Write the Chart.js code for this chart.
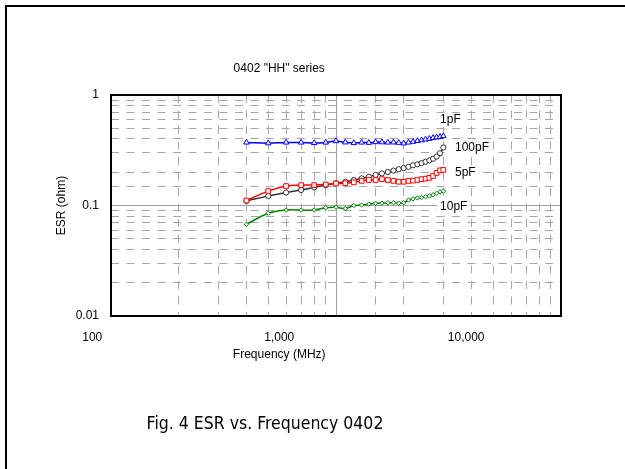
<!DOCTYPE html>
<html>
<head>
<meta charset="utf-8">
<script src="https://cdn.jsdelivr.net/npm/chart.js@4.4.1/dist/chart.umd.min.js"></script>
<style>
  html, body { margin: 0; padding: 0; background: #fff; overflow: hidden; }
  #wrap { width: 625px; height: 469px; overflow: hidden; }
  canvas { display: block; }
</style>
</head>
<body>
<div id="wrap">
  <canvas id="esrChart" width="660" height="469"></canvas>
</div>
<script>
// Data
const freqMHz = [400, 500, 600, 700, 800, 900, 1000, 1100, 1200, 1300, 1400, 1500, 1600, 1700,
  1800, 1900, 2000, 2100, 2200, 2300, 2400, 2500, 2600, 2700, 2800, 2900, 3000];
const esr1pF = [0.372, 0.366, 0.372, 0.372, 0.368, 0.372, 0.383, 0.373, 0.368, 0.372, 0.370, 0.375, 0.374, 0.372,
  0.373, 0.370, 0.365, 0.372, 0.378, 0.384, 0.390, 0.396, 0.402, 0.409, 0.414, 0.418, 0.425];
const esr5pF = [0.111, 0.135, 0.150, 0.153, 0.153, 0.155, 0.158, 0.159, 0.162, 0.167, 0.170, 0.170, 0.173, 0.170,
  0.167, 0.164, 0.164, 0.167, 0.168, 0.170, 0.173, 0.175, 0.178, 0.185, 0.197, 0.208, 0.210];
const esr10pF = [0.0676, 0.085, 0.091, 0.091, 0.091, 0.0955, 0.0965, 0.094, 0.100, 0.101, 0.103, 0.105, 0.105, 0.106,
  0.106, 0.105, 0.106, 0.112, 0.115, 0.117, 0.118, 0.120, 0.122, 0.125, 0.129, 0.133, 0.135];
const esr100pF = [0.110, 0.122, 0.131, 0.138, 0.146, 0.153, 0.159, 0.164, 0.170, 0.176, 0.182, 0.189, 0.195, 0.201,
  0.207, 0.213, 0.218, 0.224, 0.231, 0.236, 0.242, 0.249, 0.256, 0.265, 0.277, 0.297, 0.335];

const xTickValues = [100, 1000, 10000];
const xTickLabels = ['100', '1,000', '10,000'];
const yTickValues = [0.01, 0.1, 1];
const yTickLabels = ['0.01', '0.1', '1'];

// series label annotations (text, anchored at freq / esr)
const seriesNames = ['1pF', '100pF', '5pF', '10pF'];
const labelFreq = [2900, 3380, 3380, 2900];
const labelEsr = [0.594, 0.331, 0.197, 0.097];

const chartTitle = '0402 "HH" series';
const xTitle = 'Frequency (MHz)';
const yTitle = 'ESR (ohm)';
const caption = 'Fig. 4 ESR vs. Frequency 0402';

// the text layer of the original is squeezed horizontally
const TEXT_SQUEEZE = 0.831;
const FONT = '12px "Liberation Sans", Arial, sans-serif';

const isDecade = v => v != null && Math.abs(Math.log10(v) - Math.round(Math.log10(v))) < 1e-6;
const toPoints = ys => freqMHz.map((f, i) => ({ x: f, y: ys[i] }));

function series(label, ys, color, shape, radius) {
  return {
    label,
    data: toPoints(ys),
    borderColor: color,
    backgroundColor: '#fff',
    borderWidth: 1.5,
    pointStyle: shape,
    pointRadius: radius,
    pointBorderColor: color,
    pointBackgroundColor: '#fff',
    pointBorderWidth: 1,
    tension: 0.4
  };
}

const gridOpts = {
  color: ctx => isDecade(ctx.tick && ctx.tick.value) ? '#a0a0a0' : '#a6a6a6',
  lineWidth: 1,
  drawTicks: false
};
const borderOpts = {
  display: false,
  dash: ctx => (ctx.tick && !isDecade(ctx.tick.value)) ? [8, 7.5] : []
};

const textLayer = {
  id: 'textLayer',
  beforeDraw(chart) {
    // outer figure frame: only its left and top edges fall inside the picture
    const { ctx } = chart;
    ctx.save();
    ctx.fillStyle = '#000';
    ctx.fillRect(5, 5, 625, 2);
    ctx.fillRect(5, 5, 2, chart.height);
    ctx.restore();
  },
  beforeDatasetsDraw(chart) {
    const { ctx, scales: { x, y } } = chart;
    ctx.save();
    ctx.font = FONT;
    ctx.textBaseline = 'middle';
    ctx.textAlign = 'left';
    seriesNames.forEach((name, i) => {
      const px = x.getPixelForValue(labelFreq[i]);
      const py = y.getPixelForValue(labelEsr[i]);
      const w = ctx.measureText(name).width;
      ctx.fillStyle = '#fff';
      ctx.fillRect(px - 3, py - 7, w + 6, 14);
      ctx.fillStyle = '#000';
      ctx.fillText(name, px, py);
    });
    ctx.restore();
  },
  afterDraw(chart) {
    const { ctx, chartArea: a, scales: { x } } = chart;
    ctx.save();
    // plot frame
    ctx.strokeStyle = '#000';
    ctx.lineWidth = 2;
    ctx.strokeRect(a.left, a.top, a.right - a.left, a.bottom - a.top);

    ctx.fillStyle = '#000';
    ctx.font = FONT;
    ctx.textAlign = 'center';
    ctx.textBaseline = 'middle';
    xTickValues.forEach((v, i) => {
      ctx.fillText(xTickLabels[i], x.getPixelForValue(v) * TEXT_SQUEEZE, a.bottom + 22);
    });
    const mid = (a.left + a.right) / 2 * TEXT_SQUEEZE;
    ctx.fillText(xTitle, mid, a.bottom + 39);
    ctx.fillText(chartTitle, mid, a.top - 26);

    ctx.save();
    ctx.translate(62, (a.top + a.bottom) / 2);
    ctx.rotate(-Math.PI / 2);
    ctx.fillText(yTitle, 0, 0);
    ctx.restore();

    ctx.font = '17.5px "DejaVu Sans Condensed", "DejaVu Sans", sans-serif';
    ctx.fillText(caption, 265, 424);
    ctx.restore();
  }
};

new Chart(document.getElementById('esrChart'), {
  type: 'line',
  data: {
    datasets: [
      series('1pF', esr1pF, '#0000ff', 'triangle', 3.2),
      series('5pF', esr5pF, '#ff0000', 'rect', 3.3),
      series('100pF', esr100pF, '#333333', 'circle', 2.6),
      series('10pF', esr10pF, '#008000', 'rectRot', 2.2)
    ]
  },
  options: {
    responsive: false,
    animation: false,
    layout: { padding: { top: 95, right: 99, left: 0, bottom: 0 } },
    plugins: { legend: { display: false }, tooltip: { enabled: false } },
    scales: {
      x: {
        type: 'logarithmic',
        min: 100,
        max: 10000,
        ticks: { display: false },
        grid: gridOpts,
        border: borderOpts,
        afterFit: s => { s.height = 153; }
      },
      y: {
        type: 'logarithmic',
        min: 0.01,
        max: 1,
        ticks: {
          autoSkip: false,
          padding: 12,
          color: '#000',
          font: { family: '"Liberation Sans", Arial, sans-serif', size: 12 },
          callback: v => {
            const i = yTickValues.findIndex(t => Math.abs(Math.log10(t) - Math.log10(v)) < 1e-6);
            return i >= 0 ? yTickLabels[i] : '';
          }
        },
        grid: gridOpts,
        border: borderOpts,
        afterFit: s => { s.width = 111; }
      }
    }
  },
  plugins: [textLayer]
});
</script>
</body>
</html>
